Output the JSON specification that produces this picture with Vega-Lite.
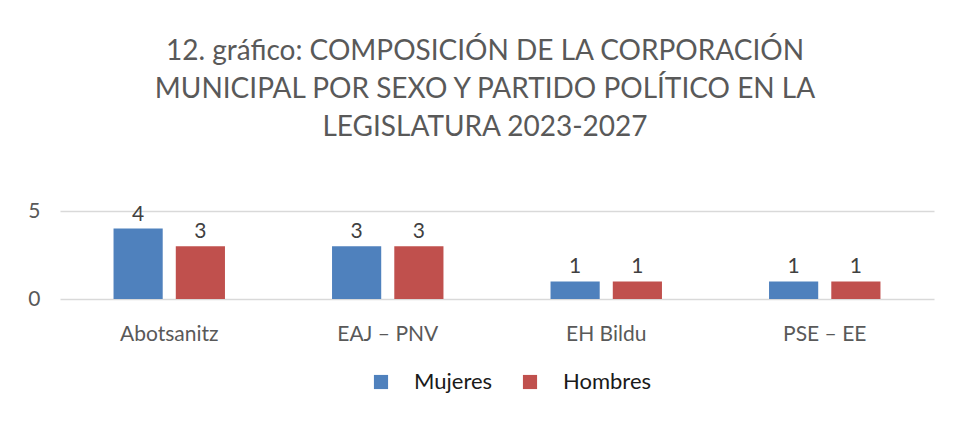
{
  "$schema": "https://vega.github.io/schema/vega-lite/v6.json",
  "width": 874,
  "height": 88,
  "autosize": "none",
  "padding": {"left": 60, "top": 211, "right": 27, "bottom": 122},
  "background": "white",
  "title": {
    "text": ["12. gráfico: COMPOSICIÓN DE LA CORPORACIÓN", "MUNICIPAL POR SEXO Y PARTIDO POLÍTICO EN LA", "LEGISLATURA 2023-2027"],
    "font": "Lato",
    "fontSize": 28,
    "fontWeight": "normal",
    "color": "#595959",
    "lineHeight": 38,
    "offset": 58,
    "dx": -12,
    "anchor": "middle"
  },
  "data": {
    "values": [
      {"partido": "Abotsanitz", "sexo": "Mujeres", "valor": 4},
      {"partido": "Abotsanitz", "sexo": "Hombres", "valor": 3},
      {"partido": "EAJ – PNV", "sexo": "Mujeres", "valor": 3},
      {"partido": "EAJ – PNV", "sexo": "Hombres", "valor": 3},
      {"partido": "EH Bildu", "sexo": "Mujeres", "valor": 1},
      {"partido": "EH Bildu", "sexo": "Hombres", "valor": 1},
      {"partido": "PSE – EE", "sexo": "Mujeres", "valor": 1},
      {"partido": "PSE – EE", "sexo": "Hombres", "valor": 1}
    ]
  },
  "encoding": {
    "x": {
      "field": "partido", "type": "nominal", "sort": null, "title": null,
      "scale": {"paddingInner": 0.49, "paddingOuter": 0.245},
      "axis": {"domain": false, "ticks": false, "labelAngle": 0, "labelFont": "Lato", "labelFontSize": 21, "labelColor": "#595959", "labelPadding": 24}
    },
    "xOffset": {"field": "sexo", "type": "nominal", "sort": ["Mujeres", "Hombres"], "scale": {"paddingInner": 0.21, "paddingOuter": 0}},
    "y": {
      "field": "valor", "type": "quantitative", "title": null,
      "scale": {"domain": [0, 5], "nice": false},
      "axis": {"values": [0, 5], "domain": false, "ticks": false, "labelFont": "Lato", "labelFontSize": 21, "labelColor": "#595959", "labelPadding": 20, "gridColor": "#d9d9d9", "gridWidth": 1.3}
    }
  },
  "layer": [
    {
      "mark": {"type": "bar"},
      "encoding": {
        "color": {
          "field": "sexo", "type": "nominal", "sort": ["Mujeres", "Hombres"],
          "scale": {"domain": ["Mujeres", "Hombres"], "range": ["#4f81bd", "#c0504d"]},
          "legend": {
            "title": null, "orient": "none", "direction": "horizontal",
            "legendX": 310, "legendY": 160,
            "symbolType": "square", "symbolSize": 200, "symbolStrokeWidth": 0,
            "labelFont": "Lato", "labelFontSize": 22, "labelColor": "#1a1a1a",
            "labelOffset": 22, "columnPadding": 26
          }
        }
      }
    },
    {
      "mark": {"type": "text", "baseline": "bottom", "dy": -4, "font": "Lato", "fontSize": 21, "color": "#404040"},
      "encoding": {"text": {"field": "valor", "type": "quantitative"}}
    }
  ],
  "config": {"view": {"stroke": null}}
}
